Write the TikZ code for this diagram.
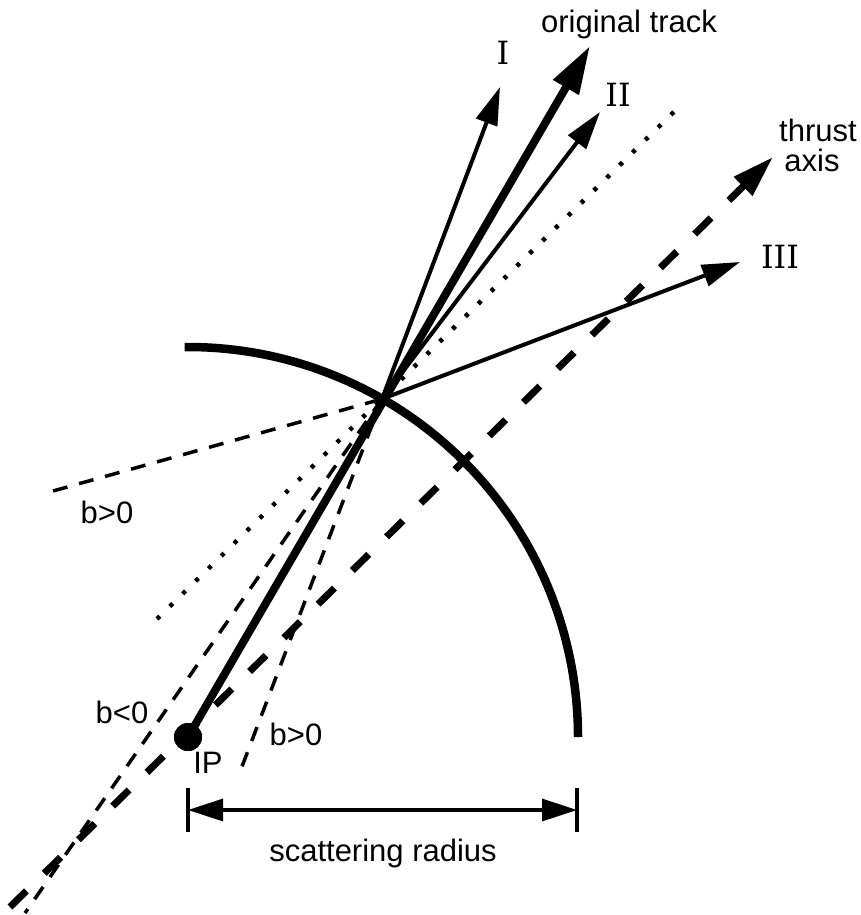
\documentclass[tikz,border=0pt]{standalone}
\usepackage{fontspec}
\setmainfont{Liberation Sans}
\newfontfamily\numfont{DejaVu Serif}
\usetikzlibrary{arrows.meta}
\begin{document}
\begin{tikzpicture}[x=1pt,y=-1pt,
  lbl/.style={font=\fontsize{31}{30}\selectfont, inner sep=0pt, anchor=base},
  num/.style={font=\numfont\fontsize{32}{30}\selectfont, inner sep=0pt, anchor=base},
  track/.style={line width=4pt, -{Triangle[length=38pt,width=22pt]}},
  orig/.style={line width=8pt, -{Triangle[length=48pt,width=28pt]}},
  thrust/.style={line width=7pt, dash pattern=on 23pt off 25pt, -{Triangle[length=42pt,width=25pt]}},
  thindash/.style={line width=3.5pt, dash pattern=on 15pt off 12pt},
  dots/.style={line width=4.5pt, dash pattern=on 4pt off 14pt},
  arcstyle/.style={line width=8.5pt},
  dim/.style={line width=3.2pt}
]
\useasboundingbox (0,0) rectangle (860,915);
% key points
\node[circle, fill, inner sep=0pt, minimum size=28pt] (IP) at (188,737) {};
\coordinate (S) at (382,399);
\coordinate (tipO) at (590,46);
\coordinate (tipI) at (500,87);
\coordinate (tipII) at (600,112);
\coordinate (tipIII) at (740,262);
\coordinate (thA) at (10,907);
\coordinate (thB) at (773,157);
\coordinate (dotA) at (157,619);
\coordinate (dotB) at (683,103);
\coordinate (bpL) at (53,491);
\coordinate (bn) at (25,913);
\coordinate (bpB) at (238,777);
\coordinate (dl) at (188,810);
\coordinate (dr) at (577,810);
\coordinate (tl1) at (188,788);
\coordinate (tl2) at (188,832);
\coordinate (tr1) at (577,788);
\coordinate (tr2) at (577,832);
% dashed / dotted lines
\draw[dots] (dotA) -- (dotB);
\draw[thindash] (bpL) -- (S);
\draw[thindash] (S) -- (bn);
\draw[thindash] (S) -- (bpB);
\draw[thrust] (thA) -- (thB);
% arc
\draw[arcstyle] (IP.center) ++(90.5:390pt) arc[start angle=90.5, end angle=0, radius=390pt];
% tracks
\draw[orig] (IP.center) -- (tipO);
\draw[track] (S) -- (tipI);
\draw[track] (S) -- (tipII);
\draw[track] (S) -- (tipIII);
\node[circle, fill, inner sep=0pt, minimum size=28pt] at (IP) {};
% dimension
\draw[dim] (tl1) -- (tl2);
\draw[dim] (tr1) -- (tr2);
\draw[dim, {Triangle[length=35pt,width=22pt]}-{Triangle[length=35pt,width=22pt]}] (dl) -- (dr);
% labels
\node[lbl] (lo) at (629,33) {original track};
\node[num] (lI) at (503,65) {I};
\node[num] (lII) at (618,107) {II};
\node[num] (lIII) at (780,268) {III};
\node[lbl] (lth) at (818,142) {thrust};
\node[lbl] (lax) at (812,171) {axis};
\node[lbl] (lb1) at (107,523) {b>0};
\node[lbl] (lb2) at (122,723) {b<0};
\node[lbl] (lb3) at (296,745) {b>0};
\node[lbl] (lip) at (208,773) {IP};
\node[lbl] (lsr) at (383,861) {scattering radius};
\end{tikzpicture}
\end{document}
